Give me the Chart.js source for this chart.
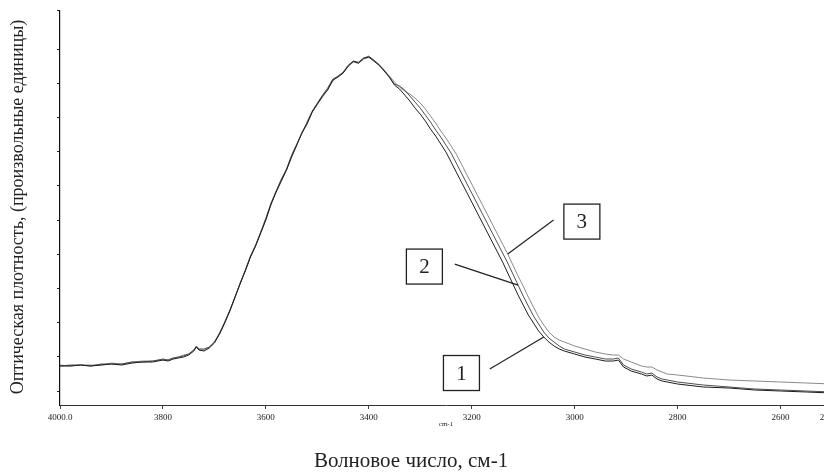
<!DOCTYPE html>
<html>
<head>
<meta charset="utf-8">
<script src="https://cdn.jsdelivr.net/npm/chart.js@4"></script>
<style>
  html, body { margin: 0; padding: 0; background: #fff; overflow: hidden; }
  #wrap { position: relative; width: 824px; height: 472px; overflow: hidden; }
  #wrap canvas { position: absolute; left: 0; top: 0; }
</style>
</head>
<body>
<div id="wrap"><canvas id="spectrum" width="852" height="472"></canvas></div>
<script>
// wavenumber grid, cm-1
const wavenumbers = [
  4000, 3980, 3960, 3940, 3920, 3900, 3880, 3860, 3840, 3820, 3800,
  3790, 3780, 3770, 3760, 3750, 3740, 3735,
  3730, 3720, 3710, 3700, 3690, 3680, 3670, 3660, 3650, 3640,
  3630, 3620, 3610, 3600, 3590, 3580, 3570, 3560, 3550, 3540,
  3530, 3520, 3510, 3500, 3490, 3480, 3470, 3460, 3450, 3440,
  3430, 3420, 3410, 3400, 3390, 3380, 3370, 3360, 3350, 3340,
  3330, 3320, 3310, 3300, 3290, 3280, 3270, 3260, 3250, 3240,
  3230, 3220, 3210, 3200, 3190, 3180, 3170, 3160, 3150, 3140,
  3130, 3120, 3110, 3100, 3090, 3080, 3070, 3060, 3050, 3040,
  3030, 3020,
  3000, 2980, 2960, 2940, 2925, 2915, 2905, 2890, 2870, 2860,
  2850, 2840, 2830, 2820, 2800, 2750, 2700, 2650, 2600, 2550, 2500
];

// optical density, arbitrary units
const sample1 = [
  0.25, 0.25, 0.26, 0.25, 0.26, 0.27, 0.26, 0.28, 0.29, 0.29, 0.31,
  0.30, 0.32, 0.33, 0.34, 0.36, 0.40, 0.44,
  0.41, 0.40, 0.43, 0.48, 0.57, 0.68, 0.80, 0.94, 1.07, 1.20,
  1.34, 1.45, 1.58, 1.71, 1.87, 1.99, 2.10, 2.21, 2.34, 2.46,
  2.58, 2.67, 2.79, 2.87, 2.95, 3.01, 3.11, 3.14, 3.18, 3.25,
  3.30, 3.28, 3.33, 3.34, 3.30, 3.26, 3.20, 3.14, 3.06, 3.02,
  2.96, 2.90, 2.83, 2.77, 2.70, 2.62, 2.55, 2.47, 2.39, 2.29,
  2.19, 2.09, 1.99, 1.89, 1.79, 1.69, 1.59, 1.49, 1.39, 1.29,
  1.18, 1.07, 0.96, 0.86, 0.76, 0.68, 0.60, 0.54, 0.49, 0.45,
  0.42, 0.40,
  0.37, 0.34, 0.32, 0.30, 0.30, 0.31, 0.24, 0.20, 0.17, 0.15,
  0.16, 0.12, 0.10, 0.09, 0.07, 0.04, 0.03, 0.01, 0.00, -0.01, -0.02
];

const sample2 = [
  0.25, 0.26, 0.26, 0.25, 0.27, 0.27, 0.27, 0.29, 0.29, 0.30, 0.32,
  0.31, 0.33, 0.34, 0.35, 0.37, 0.41, 0.45,
  0.42, 0.42, 0.44, 0.49, 0.58, 0.69, 0.81, 0.94, 1.08, 1.21,
  1.35, 1.46, 1.59, 1.73, 1.88, 2.00, 2.12, 2.22, 2.36, 2.47,
  2.58, 2.69, 2.80, 2.88, 2.96, 3.03, 3.12, 3.15, 3.19, 3.26,
  3.30, 3.29, 3.33, 3.35, 3.31, 3.26, 3.21, 3.14, 3.07, 3.05,
  3.01, 2.95, 2.89, 2.83, 2.76, 2.69, 2.61, 2.54, 2.46, 2.38,
  2.28, 2.18, 2.08, 1.98, 1.88, 1.78, 1.68, 1.58, 1.48, 1.38,
  1.28, 1.17, 1.06, 0.95, 0.85, 0.75, 0.67, 0.59, 0.53, 0.49,
  0.45, 0.42,
  0.39, 0.36, 0.34, 0.32, 0.32, 0.33, 0.26, 0.22, 0.19, 0.17,
  0.18, 0.14, 0.12, 0.11, 0.09, 0.06, 0.04, 0.02, 0.01, 0.00, -0.01
];

const sample3 = [
  0.26, 0.25, 0.26, 0.26, 0.26, 0.28, 0.27, 0.29, 0.30, 0.30, 0.31,
  0.31, 0.33, 0.34, 0.36, 0.37, 0.41, 0.44,
  0.41, 0.41, 0.44, 0.49, 0.57, 0.68, 0.80, 0.93, 1.08, 1.20,
  1.34, 1.45, 1.59, 1.72, 1.86, 2.00, 2.11, 2.21, 2.35, 2.46,
  2.59, 2.68, 2.79, 2.87, 2.94, 3.02, 3.10, 3.15, 3.18, 3.25,
  3.29, 3.28, 3.32, 3.34, 3.31, 3.27, 3.21, 3.15, 3.09, 3.04,
  3.00, 2.97, 2.93, 2.88, 2.82, 2.75, 2.68, 2.60, 2.53, 2.45,
  2.37, 2.27, 2.17, 2.07, 1.97, 1.87, 1.77, 1.67, 1.57, 1.47,
  1.37, 1.26, 1.15, 1.05, 0.94, 0.84, 0.74, 0.66, 0.59, 0.54,
  0.51, 0.49,
  0.45, 0.42, 0.39, 0.37, 0.36, 0.36, 0.32, 0.29, 0.25, 0.24,
  0.24, 0.21, 0.19, 0.17, 0.16, 0.13, 0.11, 0.10, 0.09, 0.08, 0.07
];

const xTickValues = [4000, 3800, 3600, 3400, 3200, 3000, 2800, 2600, 2500];

// numbered call-outs: box centre and leader start in data units,
// leader end sits on the curve at the given wavenumber
const callouts = [
  { text: '3', series: 2, box: [2986, 1.695], from: [3041, 1.71], at: 3130 },
  { text: '2', series: 1, box: [3292, 1.245], from: [3233, 1.27], at: 3110 },
  { text: '1', series: 0, box: [3220, 0.18], from: [3165, 0.22], at: 3060 }
];

const serif = '"Liberation Serif", "Times New Roman", serif';

const toPoints = (values) => wavenumbers.map((wn, i) => ({ x: wn, y: values[i] }));

const labelsPlugin = {
  id: 'spectrumLabels',
  afterDraw(chart) {
    const { ctx, chartArea, scales: { x, y } } = chart;
    ctx.save();
    ctx.fillStyle = '#222';
    ctx.textAlign = 'center';
    ctx.textBaseline = 'middle';

    // axis unit under the ticks
    ctx.font = '7px ' + serif;
    ctx.fillText('cm-1', (chartArea.left + chartArea.right) / 2, 424);

    // axis titles
    ctx.font = '21px ' + serif;
    ctx.fillText('Волновое число, см-1', 411, 461);

    ctx.save();
    ctx.translate(18, 207);
    ctx.rotate(-Math.PI / 2);
    ctx.font = '18px ' + serif;
    ctx.fillText('Оптическая плотность, (произвольные единицы)', 0, 0);
    ctx.restore();

    // call-out boxes and leaders
    callouts.forEach((c) => {
      const bx = x.getPixelForValue(c.box[0]);
      const by = y.getPixelForValue(c.box[1]);
      const idx = wavenumbers.indexOf(c.at);
      const end = chart.getDatasetMeta(c.series).data[idx];

      ctx.strokeStyle = '#222';
      ctx.lineWidth = 1.3;
      ctx.strokeRect(bx - 18, by - 17.5, 36, 35);

      ctx.beginPath();
      ctx.moveTo(x.getPixelForValue(c.from[0]), y.getPixelForValue(c.from[1]));
      ctx.lineTo(end.x, end.y);
      ctx.lineWidth = 1.2;
      ctx.stroke();

      ctx.font = '21px ' + serif;
      ctx.fillText(c.text, bx, by + 1);
    });
    ctx.restore();
  }
};

new Chart(document.getElementById('spectrum'), {
  type: 'line',
  data: {
    datasets: [
      { label: '1', data: toPoints(sample1), borderColor: '#1e1e1e' },
      { label: '2', data: toPoints(sample2), borderColor: '#4e4e4e' },
      { label: '3', data: toPoints(sample3), borderColor: '#8a8a8a' }
    ]
  },
  options: {
    responsive: false,
    animation: false,
    devicePixelRatio: 1,
    layout: { padding: { left: 0, top: 10, right: 20, bottom: 0 } },
    elements: {
      point: { radius: 0 },
      line: { borderWidth: 1, tension: 0 }
    },
    plugins: {
      legend: { display: false },
      tooltip: { enabled: false }
    },
    scales: {
      x: {
        type: 'linear',
        min: 2500,
        max: 4000,
        reverse: true,
        afterBuildTicks: (scale) => {
          scale.ticks = xTickValues.map((v) => ({ value: v }));
        },
        afterFit: (scale) => { scale.height = 67; },
        ticks: {
          autoSkip: false,
          maxRotation: 0,
          padding: 3,
          color: '#222',
          font: { family: serif, size: 9 },
          callback: (v, i, ticks) =>
            (i === 0 || i === ticks.length - 1) ? v.toFixed(1) : String(v)
        },
        grid: { drawOnChartArea: false, tickLength: 4, color: '#444' },
        border: { color: '#333', width: 1 }
      },
      y: {
        min: -0.14,
        max: 3.81,
        afterBuildTicks: (scale) => {
          const ticks = [];
          for (let k = 0; k <= 10; k++) ticks.push({ value: k * 0.342 });
          ticks.push({ value: 3.81 });
          scale.ticks = ticks;
        },
        afterFit: (scale) => { scale.width = 60; },
        ticks: { callback: () => '' },
        grid: { drawOnChartArea: false, tickLength: 3, color: '#222' },
        border: { color: '#111', width: 1.2 }
      }
    }
  },
  plugins: [labelsPlugin]
});
</script>
</body>
</html>
